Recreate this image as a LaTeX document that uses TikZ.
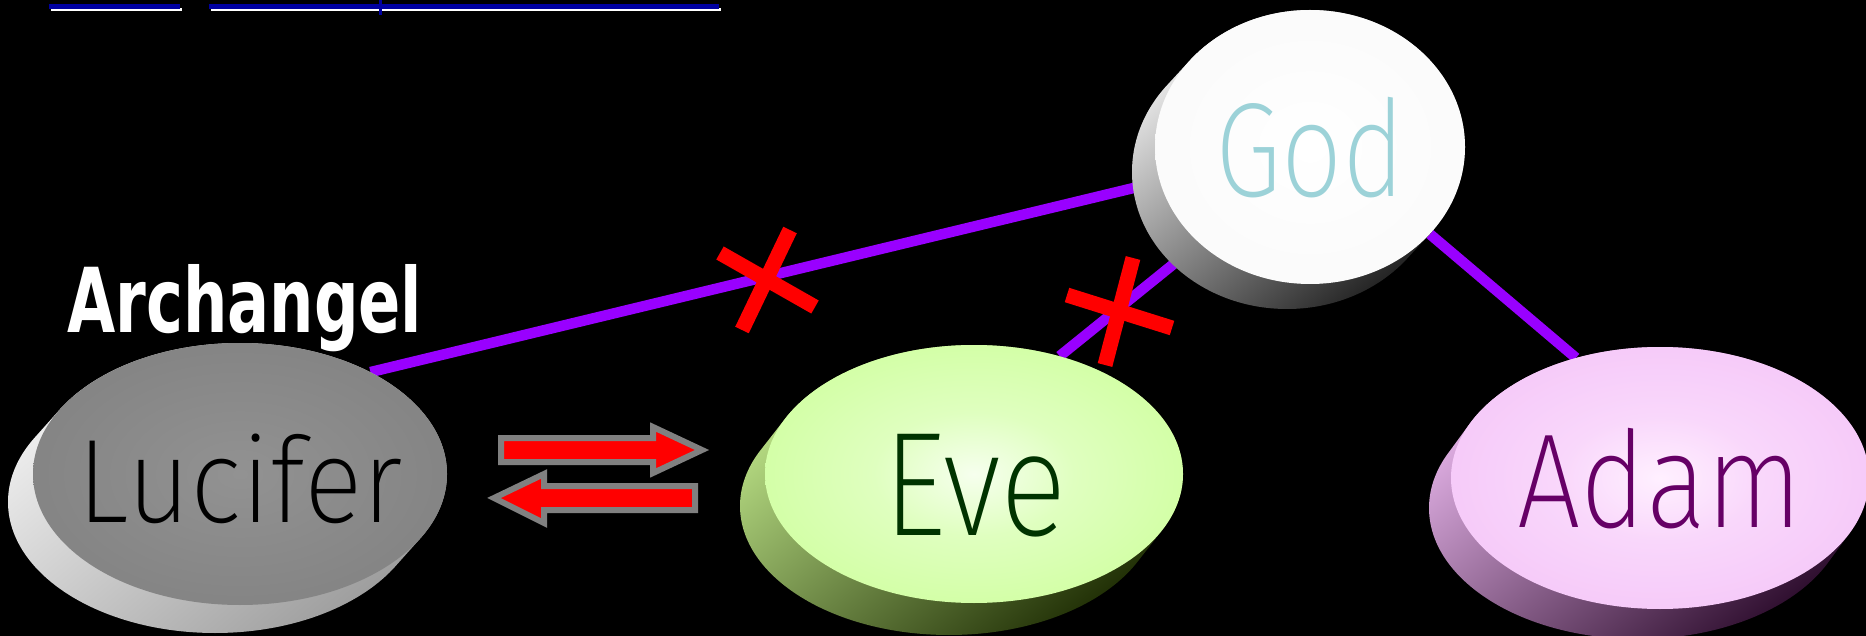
\documentclass[tikz,border=0pt]{standalone}
\usepackage{fontspec}
\setmainfont{Fira Sans}
\newfontfamily\lightfont{Fira Sans}[UprightFont={* ExtraLight}]
\newfontfamily\archfont{DejaVu Sans}
\usetikzlibrary{shapes.geometric}
\definecolor{linkpurple}{HTML}{9900FF}
\definecolor{crossred}{HTML}{FF0000}
\definecolor{arrowgray}{HTML}{808080}
\definecolor{ulblue}{HTML}{0000A0}
\definecolor{lucin}{HTML}{929292}
\definecolor{lucout}{HTML}{777777}
\definecolor{lucsideA}{HTML}{F2F2F2}
\definecolor{lucsideB}{HTML}{9A9A9A}
\definecolor{evein}{HTML}{F6FFEE}
\definecolor{eveout}{HTML}{C8FF90}
\definecolor{evesideA}{HTML}{BFE68A}
\definecolor{evesideB}{HTML}{1A2800}
\definecolor{adamin}{HTML}{FFF0FF}
\definecolor{adamout}{HTML}{F3BEF7}
\definecolor{adamsideA}{HTML}{EAB8EE}
\definecolor{adamsideB}{HTML}{2A0A2A}
\definecolor{godin}{HTML}{FFFFFF}
\definecolor{godout}{HTML}{F6F6F6}
\definecolor{godsideA}{HTML}{F4F4F4}
\definecolor{godsideB}{HTML}{151515}
\definecolor{evetext}{HTML}{003300}
\definecolor{adamtext}{HTML}{660066}
\definecolor{godtext}{HTML}{9CD2D8}
\pgfdeclareradialshading{lucfaceshade}{\pgfpoint{0bp}{0bp}}{color(0bp)=(lucin); color(50bp)=(lucout)}
\pgfdeclareradialshading{evefaceshade}{\pgfpoint{0bp}{0bp}}{color(0bp)=(evein); color(12bp)=(evein!50!eveout); color(38bp)=(eveout); color(50bp)=(eveout)}
\pgfdeclareradialshading{adamfaceshade}{\pgfpoint{0bp}{0bp}}{color(0bp)=(adamin); color(12bp)=(adamin!50!adamout); color(38bp)=(adamout); color(50bp)=(adamout)}
\pgfdeclareradialshading{godfaceshade}{\pgfpoint{0bp}{0bp}}{color(0bp)=(godin); color(50bp)=(godout)}
\pgfdeclarelayer{back}
\pgfdeclarelayer{links}
\pgfsetlayers{back,links,main}
\tikzset{
  face/.style={ellipse, inner sep=0pt, shade},
  nametext/.style={anchor=base, inner sep=0pt},
  link/.style={draw=linkpurple, line width=10.5pt},
  xbar/.style={draw=crossred, line width=15pt},
  twinarrow/.style={fill=crossred, draw=arrowgray, line width=6pt, line join=miter},
  underline/.style={draw=ulblue, line width=5pt},
  ulshadow/.style={draw=white, line width=3pt},
}
\begin{document}
\begin{tikzpicture}[x=1pt,y=-1pt]
\useasboundingbox (0,0) rectangle (1866,636);
\begin{pgfonlayer}{back}
\fill[black] (0,0) rectangle (1866,636);
\end{pgfonlayer}

% top underlines (cut-off link text)
\draw[ulshadow] (51,9.5) -- (182,9.5);
\draw[ulshadow] (211,9.5) -- (721,9.5);
\draw[underline] (49,6.5) -- (180,6.5);
\draw[underline] (209,6.5) -- (719,6.5);
\draw[draw=ulblue, line width=3pt] (380,0) -- (380,15);

% ---- Lucifer side
\begin{scope}
\clip \foreach \k in {0,...,24}{ ({240-25*\k/24},{474+28*\k/24}) ellipse [x radius=207, y radius=131] };
\shade[top color=lucsideA, bottom color=lucsideB, shading angle=40] (0,330) rectangle (460,640);
\end{scope}
% ---- Eve side
\begin{scope}
\clip \foreach \k in {0,...,24}{ ({974-25*\k/24},{474+32*\k/24}) ellipse [x radius=209, y radius=129] };
\shade[top color=evesideA, bottom color=evesideB, shading angle=40] (730,330) rectangle (1200,640);
\end{scope}
% ---- Adam side
\begin{scope}
\clip \foreach \k in {0,...,24}{ ({1660-22*\k/24},{478+30*\k/24}) ellipse [x radius=209, y radius=131] };
\shade[top color=adamsideA, bottom color=adamsideB, shading angle=40] (1420,330) rectangle (1880,640);
\end{scope}
% ---- God side
\begin{scope}
\clip \foreach \k in {0,...,24}{ ({1310-23*\k/24},{147+25*\k/24}) ellipse [x radius=155, y radius=137] };
\shade[top color=godsideA, bottom color=godsideB, shading angle=40] (1120,0) rectangle (1480,320);
\end{scope}

% faces
\node[face, shading=lucfaceshade, minimum width=414pt, minimum height=262pt] (lucifer) at (240,474) {};
\node[face, shading=evefaceshade, minimum width=418pt, minimum height=258pt] (eve) at (974,474) {};
\node[face, shading=adamfaceshade, minimum width=418pt, minimum height=262pt] (adam) at (1660,478) {};
\node[face, shading=godfaceshade, minimum width=310pt, minimum height=274pt] (god) at (1310,147) {};

% names
\node[nametext, text=black, font=\lightfont\fontsize{119}{119}\selectfont] (luctext) at (240,522) {\resizebox{325pt}{\height}{Lucifer}};
\node[nametext, text=evetext, font=\lightfont\fontsize{148}{148}\selectfont] (evetext) at (975,535) {\resizebox{184pt}{\height}{Eve}};
\node[nametext, text=adamtext, font=\lightfont\fontsize{134}{134}\selectfont] (adamtext) at (1660,527) {\resizebox{285pt}{\height}{Adam}};
\node[nametext, text=godtext, font=\lightfont\fontsize{134}{134}\selectfont] (godtext) at (1310,197) {\resizebox{190pt}{\height}{God}};

% Archangel label
\node[anchor=base west, inner sep=0pt, text=white] (arch) at (67,332)
  {\resizebox{355pt}{68pt}{\archfont\bfseries Archangel}};

% links (behind the pills)
\begin{pgfonlayer}{links}
\draw[link] (lucifer.38) -- (god.193);
\draw[link] (eve.54) -- (god.221);
\draw[link] (god.324) -- (adam.125);
\end{pgfonlayer}

% crosses
\draw[xbar] (720,253) -- (815,307);
\draw[xbar] (790,230) -- (742,330);
\draw[xbar] (1067,295) -- (1172,328);
\draw[xbar] (1133,258) -- (1105,365);

% exchange arrows
\draw[twinarrow] (501,438) -- (653,438) -- (653,427) -- (702,450) -- (653,473) -- (653,462) -- (501,462) -- cycle;
\draw[twinarrow] (695,486) -- (544,486) -- (544,474) -- (494,498) -- (544,523) -- (544,510) -- (695,510) -- cycle;
\end{tikzpicture}
\end{document}
